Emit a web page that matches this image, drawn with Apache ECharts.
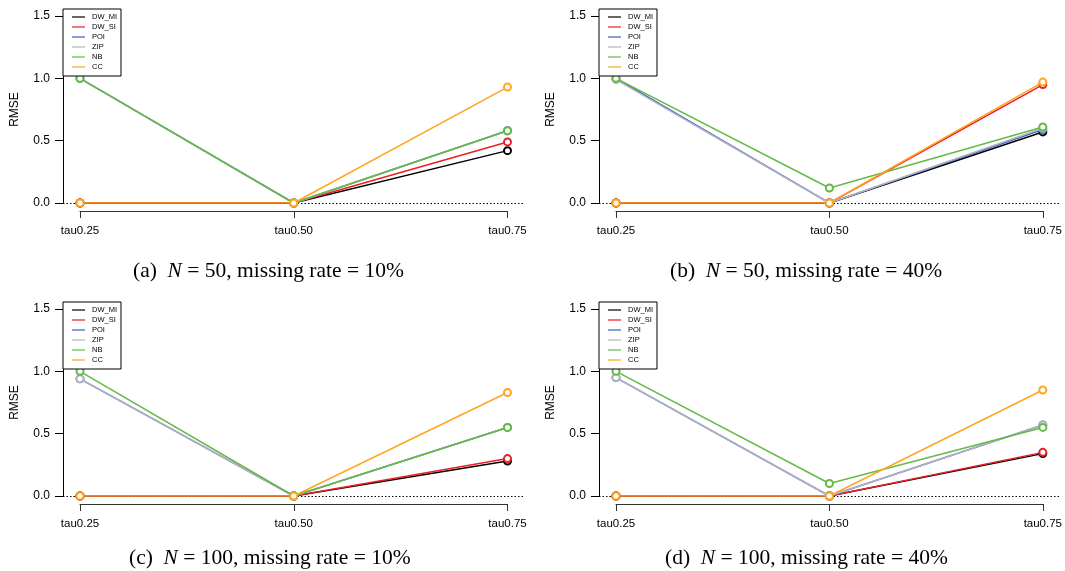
<!DOCTYPE html>
<html>
<head>
<meta charset="utf-8">
<script src="https://cdn.jsdelivr.net/npm/echarts@6/dist/echarts.min.js"></script>
<style>
html,body{margin:0;padding:0;background:#fff;}
#chart{width:1065px;height:571px;}
</style>
</head>
<body>
<div id="chart"></div>
<script>
// ---- data ----
const categories = ['tau0.25', 'tau0.50', 'tau0.75'];
const methods = ['DW_MI', 'DW_SI', 'POI', 'ZIP', 'NB', 'CC'];
const yTicks = [0, 0.5, 1.0, 1.5];

// (a) N = 50, missing rate = 10%
const a_DW_MI = [0, 0, 0.42];
const a_DW_SI = [0, 0, 0.49];
const a_POI   = [1.00, 0, 0.58];
const a_ZIP   = [1.00, 0, 0.58];
const a_NB    = [1.00, 0, 0.58];
const a_CC    = [0, 0, 0.93];

// (b) N = 50, missing rate = 40%
const b_DW_MI = [0, 0, 0.57];
const b_DW_SI = [0, 0, 0.95];
const b_POI   = [1.00, 0, 0.59];
const b_ZIP   = [0.99, 0, 0.60];
const b_NB    = [1.00, 0.12, 0.61];
const b_CC    = [0, 0, 0.97];

// (c) N = 100, missing rate = 10%
const c_DW_MI = [0, 0, 0.28];
const c_DW_SI = [0, 0, 0.30];
const c_POI   = [0.94, 0, 0.55];
const c_ZIP   = [0.94, 0, 0.55];
const c_NB    = [1.00, 0, 0.55];
const c_CC    = [0, 0, 0.83];

// (d) N = 100, missing rate = 40%
const d_DW_MI = [0, 0, 0.34];
const d_DW_SI = [0, 0, 0.35];
const d_POI   = [0.95, 0, 0.57];
const d_ZIP   = [0.95, 0, 0.57];
const d_NB    = [1.00, 0.10, 0.55];
const d_CC    = [0, 0, 0.85];

const panelLabels = ['(a)', '(b)', '(c)', '(d)'];
const panelN = ['50', '50', '100', '100'];
const panelRate = ['10%', '40%', '10%', '40%'];
const panelData = [
  [a_DW_MI, a_DW_SI, a_POI, a_ZIP, a_NB, a_CC],
  [b_DW_MI, b_DW_SI, b_POI, b_ZIP, b_NB, b_CC],
  [c_DW_MI, c_DW_SI, c_POI, c_ZIP, c_NB, c_CC],
  [d_DW_MI, d_DW_SI, d_POI, d_ZIP, d_NB, d_CC]
];

// ---- styles ----
const colors = ['#000000', '#EC1F26', '#3B5BC8', '#B3B4BE', '#64BA45', '#FFA520'];
const sans = 'Liberation Sans';
const serif = 'Liberation Serif';
const colDX = [0, 536];
const rowDY = [0, 293];
const captionLeft = [128, 665, 124, 660];
const captionTop = [254, 541];

const option = {
  animation: false,
  backgroundColor: '#ffffff',
  grid: [], xAxis: [], yAxis: [], series: [], legend: [], title: []
};

for (let p = 0; p < 4; p++) {
  const col = p % 2, row = Math.floor(p / 2);
  const dx = colDX[col], dy = rowDY[row];
  const gMain = option.grid.length;
  // main grid (categories at its edges)
  option.grid.push({left: 80 + dx, top: 16 + dy, width: 427.5, height: 187});
  // auxiliary grid spanning full plot region for the dotted zero line
  option.grid.push({left: 63 + dx, top: 16 + dy, width: 462, height: 187});

  option.xAxis.push({
    gridIndex: gMain, type: 'category', data: categories, boundaryGap: false,
    offset: 8, position: 'bottom',
    axisLine: {show: true, onZero: false, lineStyle: {color: '#333', width: 1}},
    axisTick: {show: true, length: 7, alignWithLabel: true, lineStyle: {color: '#333', width: 1}},
    axisLabel: {color: '#000', fontFamily: sans, fontSize: 11.5, margin: 14, interval: 0},
    splitLine: {show: false}
  });
  option.xAxis.push({gridIndex: gMain + 1, type: 'value', min: 0, max: 1, show: false});

  option.yAxis.push({
    gridIndex: gMain, type: 'value', min: 0, max: 1.5, interval: 0.5, offset: 17,
    name: 'RMSE', nameLocation: 'middle', nameGap: 42, nameRotate: 90,
    nameTextStyle: {color: '#000', fontFamily: sans, fontSize: 12},
    axisLine: {show: true, onZero: false, lineStyle: {color: '#000', width: 1}},
    axisTick: {show: true, length: 8, lineStyle: {color: '#000', width: 1}},
    axisLabel: {color: '#000', fontFamily: sans, fontSize: 12, margin: 13,
      formatter: v => Number(v).toFixed(1)},
    splitLine: {show: false}
  });
  option.yAxis.push({gridIndex: gMain + 1, type: 'value', min: 0, max: 1.5, show: false});

  // dotted zero line
  option.series.push({
    type: 'line', xAxisIndex: gMain + 1, yAxisIndex: gMain + 1, data: [], z: 1,
    silent: true,
    markLine: {
      silent: true, symbol: 'none', z: 1, label: {show: false},
      lineStyle: {color: '#000', width: 1, type: [1.5, 2]},
      data: [{yAxis: 0}]
    }
  });

  methods.forEach((m, k) => {
    option.series.push({
      name: m, type: 'line', xAxisIndex: gMain, yAxisIndex: gMain,
      data: panelData[p][k], z: 3 + k,
      symbol: 'emptyCircle', symbolSize: 7,
      lineStyle: {color: colors[k], width: 1.5},
      itemStyle: {color: colors[k], borderColor: colors[k], borderWidth: 1.5},
      emphasis: {disabled: true}
    });
  });

  option.legend.push({
    left: 63 + dx, top: 9 + dy, orient: 'vertical',
    data: methods, selectedMode: false,
    icon: 'rect', itemWidth: 13, itemHeight: 1.2, itemGap: 0,
    itemStyle: {borderWidth: 0},
    lineStyle: {width: 0},
    padding: [3, 4, 4, 9],
    borderColor: '#000', borderWidth: 1, backgroundColor: '#fff',
    textStyle: {fontFamily: sans, fontSize: 7.5, lineHeight: 10, color: '#000', padding: [0, 0, 0, 2]},
    z: 10
  });

  option.title.push({
    left: captionLeft[p], top: captionTop[row],
    text: panelLabels[p] + '  {i|N} = ' + panelN[p] + ', missing rate = ' + panelRate[p],
    textStyle: {
      fontFamily: serif, fontSize: 21.5, fontWeight: 'normal', color: '#000', lineHeight: 24,
      rich: {i: {fontFamily: serif, fontSize: 21.5, fontStyle: 'italic', color: '#000', lineHeight: 24}}
    }
  });
}

const chart = echarts.init(document.getElementById('chart'), null, {renderer: 'canvas'});
chart.setOption(option);
</script>
</body>
</html>
